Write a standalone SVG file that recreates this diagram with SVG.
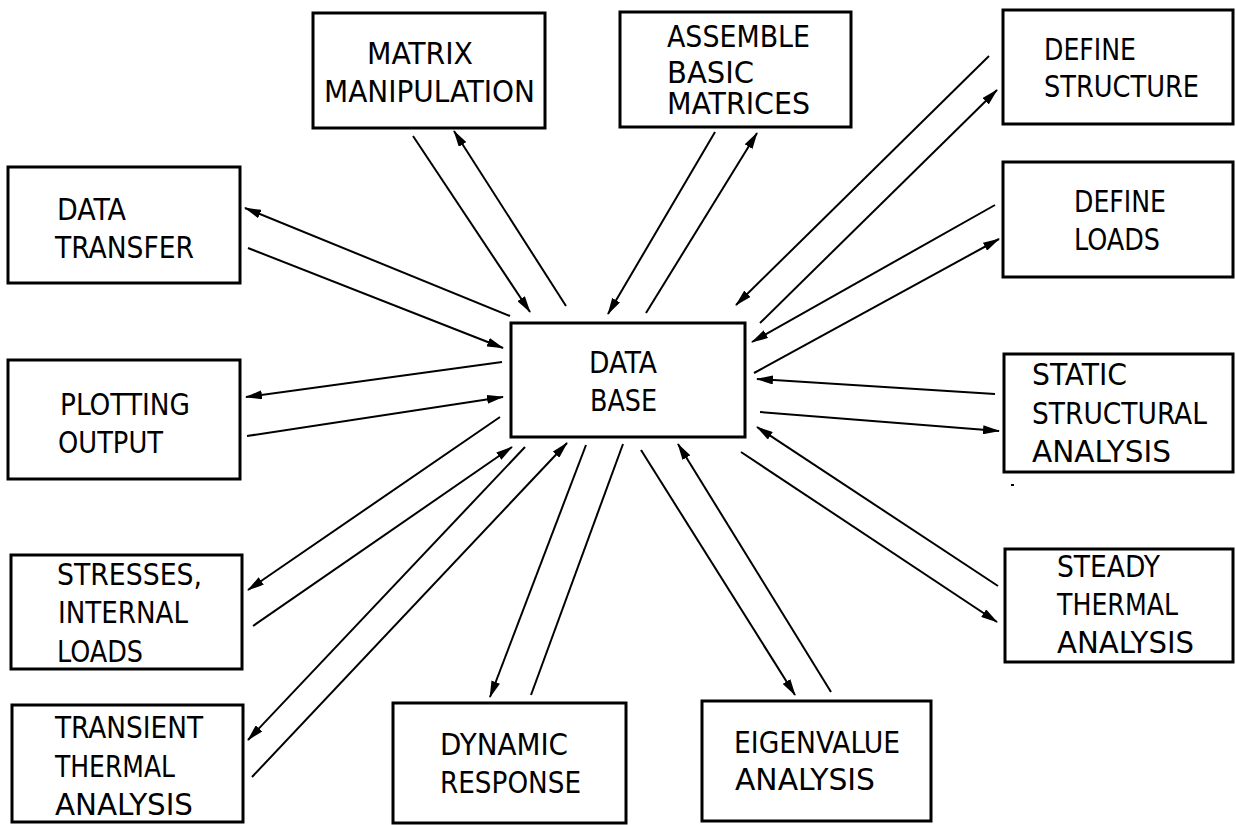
<svg xmlns="http://www.w3.org/2000/svg" width="1236" height="825" viewBox="0 0 1236 825">
<style>
.box{fill:#fff;stroke:#000;stroke-width:3}
.c line{stroke:#000;stroke-width:2;marker-end:url(#ah)}
text{font-family:"DejaVu Sans Condensed","Liberation Sans",sans-serif;font-size:30px;fill:#000}
</style>
<defs>
<marker id="ah" markerUnits="userSpaceOnUse" markerWidth="17" markerHeight="9" refX="16" refY="4.5" orient="auto">
<path d="M0,0 L17,4.5 L0,9 z" fill="#000"/>
</marker>
</defs>
<rect width="1236" height="825" fill="#fff"/>
<g class="c" id="connectors">
<line x1="413" y1="136" x2="530" y2="312"/>
<line x1="566" y1="306" x2="454" y2="131"/>
<line x1="715" y1="132" x2="608" y2="314"/>
<line x1="646" y1="313" x2="757" y2="133"/>
<line x1="989" y1="56" x2="736" y2="305"/>
<line x1="760" y1="323" x2="997" y2="90"/>
<line x1="995" y1="205" x2="752" y2="342"/>
<line x1="754" y1="373" x2="999" y2="239"/>
<line x1="510" y1="316" x2="245" y2="208"/>
<line x1="248" y1="248" x2="503" y2="348"/>
<line x1="502" y1="362" x2="246" y2="397"/>
<line x1="247" y1="436" x2="503" y2="397"/>
<line x1="500" y1="417" x2="248" y2="590"/>
<line x1="253" y1="626" x2="512" y2="447"/>
<line x1="525" y1="447" x2="248" y2="740"/>
<line x1="252" y1="777" x2="567" y2="443"/>
<line x1="586" y1="445" x2="490" y2="697"/>
<line x1="531" y1="695" x2="623" y2="444" style="marker-end:none"/>
<line x1="641" y1="450" x2="795" y2="695"/>
<line x1="831" y1="692" x2="678" y2="444"/>
<line x1="995" y1="394" x2="757" y2="379"/>
<line x1="760" y1="412" x2="999" y2="431"/>
<line x1="998" y1="586" x2="757" y2="427"/>
<line x1="741" y1="452" x2="997" y2="622"/>
</g>
<g id="matrix-manipulation"><rect class="box" x="313" y="13" width="232" height="115"/>
<text x="367" y="64" textLength="106" lengthAdjust="spacingAndGlyphs">MATRIX</text>
<text x="324" y="102" textLength="211" lengthAdjust="spacingAndGlyphs">MANIPULATION</text></g>
<g id="assemble-basic-matrices"><rect class="box" x="620" y="12" width="231" height="115"/>
<text x="667" y="47" textLength="143" lengthAdjust="spacingAndGlyphs">ASSEMBLE</text>
<text x="667" y="83" textLength="87" lengthAdjust="spacingAndGlyphs">BASIC</text>
<text x="667" y="114" textLength="143" lengthAdjust="spacingAndGlyphs">MATRICES</text></g>
<g id="define-structure"><rect class="box" x="1003" y="10" width="230" height="114"/>
<text x="1044" y="60" textLength="92" lengthAdjust="spacingAndGlyphs">DEFINE</text>
<text x="1044" y="97" textLength="155" lengthAdjust="spacingAndGlyphs">STRUCTURE</text></g>
<g id="data-transfer"><rect class="box" x="8" y="167" width="232" height="116"/>
<text x="57" y="220" textLength="69" lengthAdjust="spacingAndGlyphs">DATA</text>
<text x="55" y="258" textLength="139" lengthAdjust="spacingAndGlyphs">TRANSFER</text></g>
<g id="define-loads"><rect class="box" x="1003" y="162" width="230" height="115"/>
<text x="1074" y="212" textLength="92" lengthAdjust="spacingAndGlyphs">DEFINE</text>
<text x="1074" y="250" textLength="86" lengthAdjust="spacingAndGlyphs">LOADS</text></g>
<g id="data-base"><rect class="box" x="511" y="323" width="234" height="114"/>
<text x="589" y="373" textLength="68" lengthAdjust="spacingAndGlyphs">DATA</text>
<text x="590" y="411" textLength="67" lengthAdjust="spacingAndGlyphs">BASE</text></g>
<g id="plotting-output"><rect class="box" x="8" y="360" width="232" height="119"/>
<text x="60" y="415" textLength="130" lengthAdjust="spacingAndGlyphs">PLOTTING</text>
<text x="58" y="453" textLength="105" lengthAdjust="spacingAndGlyphs">OUTPUT</text></g>
<g id="static-structural-analysis"><rect class="box" x="1004" y="354" width="229" height="118"/>
<text x="1032" y="385" textLength="95" lengthAdjust="spacingAndGlyphs">STATIC</text>
<text x="1032" y="424" textLength="175" lengthAdjust="spacingAndGlyphs">STRUCTURAL</text>
<text x="1032" y="462" textLength="139" lengthAdjust="spacingAndGlyphs">ANALYSIS</text></g>
<rect x="1011" y="484" width="3" height="2" fill="#000"/>
<g id="stresses-internal-loads"><rect class="box" x="11" y="555" width="231" height="114"/>
<text x="57" y="585" textLength="145" lengthAdjust="spacingAndGlyphs">STRESSES,</text>
<text x="58" y="623" textLength="130" lengthAdjust="spacingAndGlyphs">INTERNAL</text>
<text x="57" y="662" textLength="86" lengthAdjust="spacingAndGlyphs">LOADS</text></g>
<g id="steady-thermal-analysis"><rect class="box" x="1005" y="549" width="228" height="113"/>
<text x="1057" y="577" textLength="103" lengthAdjust="spacingAndGlyphs">STEADY</text>
<text x="1057" y="615" textLength="121" lengthAdjust="spacingAndGlyphs">THERMAL</text>
<text x="1057" y="653" textLength="137" lengthAdjust="spacingAndGlyphs">ANALYSIS</text></g>
<g id="transient-thermal-analysis"><rect class="box" x="12" y="705" width="231" height="117"/>
<text x="55" y="738" textLength="148" lengthAdjust="spacingAndGlyphs">TRANSIENT</text>
<text x="55" y="777" textLength="120" lengthAdjust="spacingAndGlyphs">THERMAL</text>
<text x="55" y="815" textLength="138" lengthAdjust="spacingAndGlyphs">ANALYSIS</text></g>
<g id="dynamic-response"><rect class="box" x="393" y="703" width="233" height="120"/>
<text x="440" y="755" textLength="128" lengthAdjust="spacingAndGlyphs">DYNAMIC</text>
<text x="440" y="793" textLength="141" lengthAdjust="spacingAndGlyphs">RESPONSE</text></g>
<g id="eigenvalue-analysis"><rect class="box" x="702" y="701" width="229" height="120"/>
<text x="734" y="753" textLength="166" lengthAdjust="spacingAndGlyphs">EIGENVALUE</text>
<text x="735" y="790" textLength="140" lengthAdjust="spacingAndGlyphs">ANALYSIS</text></g>
</svg>
